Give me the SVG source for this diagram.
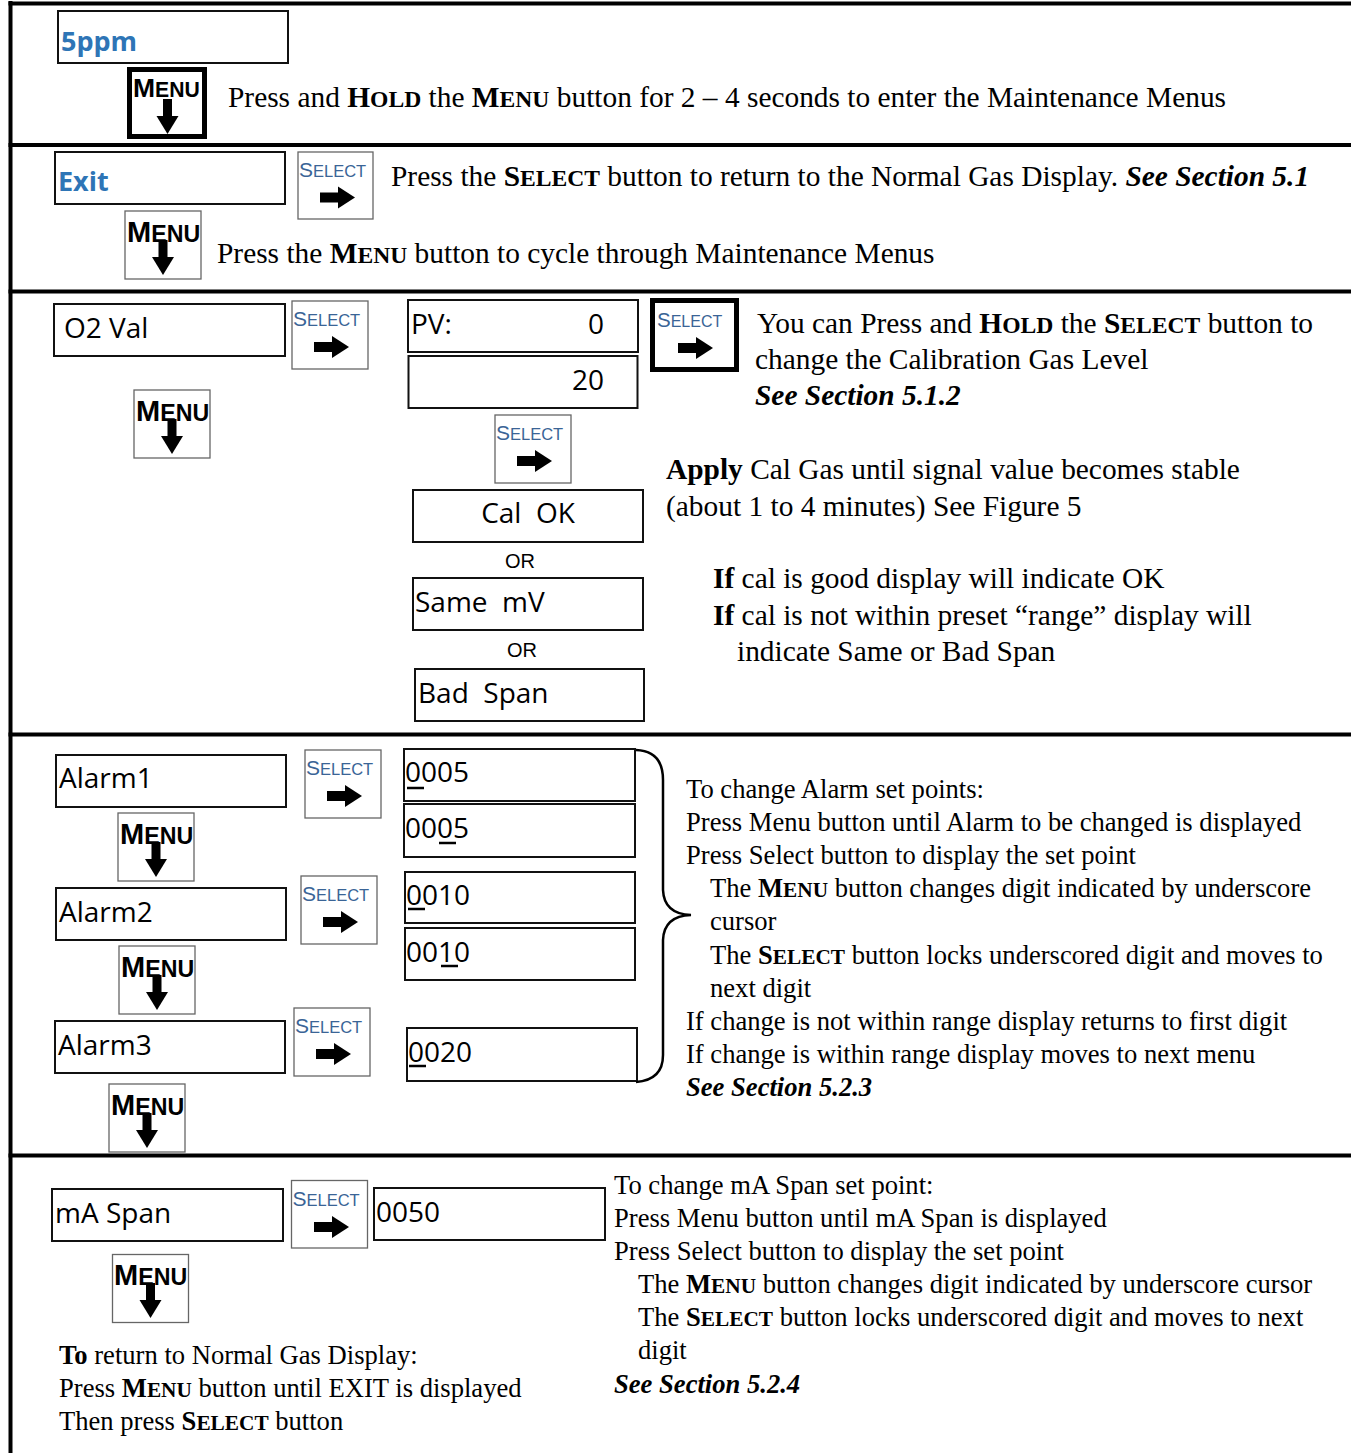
<svg xmlns="http://www.w3.org/2000/svg" width="1351" height="1453" viewBox="0 0 1351 1453">
<style>
.frame{stroke:#000;stroke-width:4;fill:none}
.box{fill:#fff;stroke:#111;stroke-width:2}
.btn{fill:#fff;stroke:#666;stroke-width:1.3}
.thick{fill:#fff;stroke:#000;stroke-width:5}
.disp{font-family:"Open Sans","Noto Sans",sans-serif;font-size:28px;fill:#000;white-space:pre}
.blue{font-family:"Open Sans","Noto Sans",sans-serif;font-size:27px;font-weight:bold;fill:#2E75B6}
.menu{font-family:"Liberation Sans",Arial,sans-serif;font-weight:bold;fill:#000}
.sel{font-family:"Liberation Sans",Arial,sans-serif;fill:#3A6496}
.t{font-family:"Liberation Serif","Times New Roman",serif;font-size:29.4px;fill:#000}
.s{font-family:"Liberation Serif","Times New Roman",serif;font-size:26.6px;fill:#000}
.or{font-family:"Liberation Sans",Arial,sans-serif;font-size:20px;fill:#000}
.b{font-weight:bold}
.bi{font-weight:bold;font-style:italic}
.ul{stroke:#000;stroke-width:2.5}
.brace{fill:none;stroke:#000;stroke-width:2.5}
</style>
<defs>
<g id="menuArrow"><rect x="-4.5" y="0" width="9" height="18"/><polygon points="-11,17 11,17 0,35"/></g>
<g id="selArrow"><rect x="0" y="-5" width="20" height="10"/><polygon points="18,-11 18,11 35,0"/></g>
</defs>

<g id="frame">
<line class="frame" x1="10.5" y1="1" x2="10.5" y2="1453"/>
<line class="frame" x1="8.5" y1="3.5" x2="1351" y2="3.5"/>
<line class="frame" x1="8.5" y1="145" x2="1351" y2="145"/>
<line class="frame" x1="8.5" y1="291.5" x2="1351" y2="291.5"/>
<line class="frame" x1="8.5" y1="734.5" x2="1351" y2="734.5"/>
<line class="frame" x1="8.5" y1="1155.5" x2="1351" y2="1155.5"/>
</g>

<!-- Section 1 -->
<g id="disp-5ppm"><rect class="box" x="58" y="11" width="230" height="52"/><text class="blue" x="61" y="51">5ppm</text></g>
<g id="btn-menu-hold">
<rect class="thick" x="129.5" y="69.5" width="75" height="67" stroke-width="6"/>
<text class="menu" x="133" y="97" font-size="26.5">M<tspan font-size="21.2">ENU</tspan></text>
<use href="#menuArrow" x="167.5" y="99"/>
</g>
<text class="t" x="228" y="107">Press and <tspan class="b">H<tspan font-size="23.6">OLD</tspan></tspan> the <tspan class="b">M<tspan font-size="23.6">ENU</tspan></tspan> button for 2 – 4 seconds to enter the Maintenance Menus</text>

<!-- Section 2 -->
<g id="disp-exit"><rect class="box" x="55" y="152" width="230" height="52"/><text class="blue" x="58" y="191">Exit</text></g>
<g id="btn-select-exit">
<rect class="btn" x="298" y="152" width="75" height="67"/>
<text class="sel" x="299" y="177" font-size="21">S<tspan font-size="16.5">ELECT</tspan></text>
<use href="#selArrow" x="320" y="197.5"/>
</g>
<text class="t" x="391" y="186">Press the <tspan class="b">S<tspan font-size="23.6">ELECT</tspan></tspan> button to return to the Normal Gas Display. <tspan class="bi">See Section 5.1</tspan></text>
<g id="btn-menu-cycle">
<rect class="btn" x="125" y="211" width="76" height="68"/>
<text class="menu" x="127" y="242" font-size="29">M<tspan font-size="23.2">ENU</tspan></text>
<use href="#menuArrow" x="163" y="240"/>
</g>
<text class="t" x="217" y="263">Press the <tspan class="b">M<tspan font-size="23.6">ENU</tspan></tspan> button to cycle through Maintenance Menus</text>

<!-- Section 3 -->
<g id="disp-o2val"><rect class="box" x="54" y="304" width="231" height="52"/><text class="disp" x="64" y="338">O2 Val</text></g>
<g id="btn-select-o2">
<rect class="btn" x="292" y="301" width="76" height="68"/>
<text class="sel" x="293" y="326" font-size="21">S<tspan font-size="16.5">ELECT</tspan></text>
<use href="#selArrow" x="314" y="347"/>
</g>
<g id="btn-menu-o2">
<rect class="btn" x="134" y="390" width="76" height="68"/>
<text class="menu" x="136" y="421" font-size="29">M<tspan font-size="23.2">ENU</tspan></text>
<use href="#menuArrow" x="172" y="419"/>
</g>
<g id="disp-pv"><rect class="box" x="408" y="300" width="230" height="52"/><text class="disp" x="411" y="334">PV:</text><text class="disp" x="604" y="334" text-anchor="end">0</text></g>
<g id="disp-20"><rect class="box" x="408.5" y="356" width="229" height="52" stroke-width="3"/><text class="disp" x="604" y="390" text-anchor="end">20</text></g>
<g id="btn-select-cal">
<rect class="btn" x="495" y="415" width="76" height="68"/>
<text class="sel" x="496" y="440" font-size="21">S<tspan font-size="16.5">ELECT</tspan></text>
<use href="#selArrow" x="517" y="461"/>
</g>
<g id="btn-select-hold">
<rect class="thick" x="652.5" y="300.5" width="84" height="69"/>
<text class="sel" x="657" y="327" font-size="20.5">S<tspan font-size="16">ELECT</tspan></text>
<use href="#selArrow" x="678" y="348"/>
</g>
<text class="t" x="757" y="333">You can Press and <tspan class="b">H<tspan font-size="23.6">OLD</tspan></tspan> the <tspan class="b">S<tspan font-size="23.6">ELECT</tspan></tspan> button to</text>
<text class="t" x="755" y="369">change the Calibration Gas Level</text>
<text class="t bi" x="755" y="405">See Section 5.1.2</text>
<text class="t" x="666" y="479"><tspan class="b">Apply</tspan> Cal Gas until signal value becomes stable</text>
<text class="t" x="666" y="516">(about 1 to 4 minutes) See Figure 5</text>
<g id="disp-calok"><rect class="box" x="413" y="490" width="230" height="52"/><text class="disp" x="528" y="523" text-anchor="middle">Cal  OK</text></g>
<text class="or" x="520" y="568" text-anchor="middle">OR</text>
<g id="disp-samemv"><rect class="box" x="413" y="578" width="230" height="52"/><text class="disp" x="415" y="612">Same  mV</text></g>
<text class="or" x="522" y="657" text-anchor="middle">OR</text>
<g id="disp-badspan"><rect class="box" x="415" y="669" width="229" height="52"/><text class="disp" x="418" y="703">Bad  Span</text></g>
<text class="t" x="713" y="588"><tspan class="b">If</tspan> cal is good display will indicate OK</text>
<text class="t" x="713" y="625"><tspan class="b">If</tspan> cal is not within preset “range” display will</text>
<text class="t" x="737" y="661">indicate Same or Bad Span</text>

<!-- Section 4 -->
<g id="disp-alarm1"><rect class="box" x="56" y="755" width="230" height="52"/><text class="disp" x="59" y="788">Alarm1</text></g>
<g id="btn-select-a1">
<rect class="btn" x="305" y="750" width="76" height="68"/>
<text class="sel" x="306" y="775" font-size="21">S<tspan font-size="16.5">ELECT</tspan></text>
<use href="#selArrow" x="327" y="796"/>
</g>
<g id="btn-menu-a1">
<rect class="btn" x="118" y="813" width="76" height="68"/>
<text class="menu" x="120" y="844" font-size="29">M<tspan font-size="23.2">ENU</tspan></text>
<use href="#menuArrow" x="156" y="842"/>
</g>
<g id="disp-alarm2"><rect class="box" x="56" y="888" width="230" height="52"/><text class="disp" x="59" y="922">Alarm2</text></g>
<g id="btn-select-a2">
<rect class="btn" x="301" y="876" width="76" height="68"/>
<text class="sel" x="302" y="901" font-size="21">S<tspan font-size="16.5">ELECT</tspan></text>
<use href="#selArrow" x="323" y="922"/>
</g>
<g id="btn-menu-a2">
<rect class="btn" x="119" y="946" width="76" height="68"/>
<text class="menu" x="121" y="977" font-size="29">M<tspan font-size="23.2">ENU</tspan></text>
<use href="#menuArrow" x="157" y="975"/>
</g>
<g id="disp-alarm3"><rect class="box" x="55" y="1021" width="230" height="52"/><text class="disp" x="58" y="1055">Alarm3</text></g>
<g id="btn-select-a3">
<rect class="btn" x="294" y="1008" width="76" height="68"/>
<text class="sel" x="295" y="1033" font-size="21">S<tspan font-size="16.5">ELECT</tspan></text>
<use href="#selArrow" x="316" y="1054"/>
</g>
<g id="btn-menu-a3">
<rect class="btn" x="109" y="1084" width="76" height="68"/>
<text class="menu" x="111" y="1115" font-size="29">M<tspan font-size="23.2">ENU</tspan></text>
<use href="#menuArrow" x="147" y="1113"/>
</g>
<g id="val-0005a"><rect class="box" x="404" y="749" width="231" height="52"/><text class="disp" x="405" y="782">0005</text><line class="ul" x1="407" y1="788" x2="424" y2="788"/></g>
<g id="val-0005b"><rect class="box" x="404" y="804" width="231" height="53"/><text class="disp" x="405" y="838">0005</text><line class="ul" x1="439" y1="843" x2="456" y2="843"/></g>
<g id="val-0010a"><rect class="box" x="405" y="872" width="230" height="51"/><text class="disp" x="406" y="905">0010</text><line class="ul" x1="408" y1="909" x2="425" y2="909"/></g>
<g id="val-0010b"><rect class="box" x="405" y="928" width="230" height="52"/><text class="disp" x="406" y="962">0010</text><line class="ul" x1="441" y1="966" x2="458" y2="966"/></g>
<g id="val-0020"><rect class="box" x="407" y="1028" width="230" height="53"/><text class="disp" x="408" y="1062">0020</text><line class="ul" x1="409" y1="1066" x2="426" y2="1066"/></g>
<g id="connectors">
<path class="brace" d="M636,750 Q663,751 663,780 L663,890 Q664,914 691,915 Q664,916 663,940 L663,1055 Q663,1080 636,1082"/>
</g>
<text class="s" x="686" y="798">To change Alarm set points:</text>
<text class="s" x="686" y="831">Press Menu button until Alarm to be changed is displayed</text>
<text class="s" x="686" y="864">Press Select button to display the set point</text>
<text class="s" x="710" y="897">The <tspan class="b">M<tspan font-size="21.3">ENU</tspan></tspan> button changes digit indicated by underscore</text>
<text class="s" x="710" y="930">cursor</text>
<text class="s" x="710" y="964">The <tspan class="b">S<tspan font-size="21.3">ELECT</tspan></tspan> button locks underscored digit and moves to</text>
<text class="s" x="710" y="997">next digit</text>
<text class="s" x="686" y="1030">If change is not within range display returns to first digit</text>
<text class="s" x="686" y="1063">If change is within range display moves to next menu</text>
<text class="s bi" x="686" y="1096">See Section 5.2.3</text>

<!-- Section 5 -->
<g id="disp-maspan"><rect class="box" x="52" y="1189" width="231" height="52"/><text class="disp" x="55" y="1223">mA Span</text></g>
<g id="btn-select-ma">
<rect class="btn" x="291.5" y="1180.5" width="76" height="67.5"/>
<text class="sel" x="292.5" y="1206" font-size="21">S<tspan font-size="16.5">ELECT</tspan></text>
<use href="#selArrow" x="314" y="1227"/>
</g>
<g id="val-0050"><rect class="box" x="374" y="1188" width="231" height="52"/><text class="disp" x="376" y="1222">0050</text></g>
<g id="btn-menu-ma">
<rect class="btn" x="112.5" y="1254.5" width="76" height="68"/>
<text class="menu" x="114" y="1285" font-size="29">M<tspan font-size="23.2">ENU</tspan></text>
<use href="#menuArrow" x="150.5" y="1283"/>
</g>
<text class="s" x="614" y="1194">To change mA Span set point:</text>
<text class="s" x="614" y="1227">Press Menu button until mA Span is displayed</text>
<text class="s" x="614" y="1260">Press Select button to display the set point</text>
<text class="s" x="638" y="1293">The <tspan class="b">M<tspan font-size="21.3">ENU</tspan></tspan> button changes digit indicated by underscore cursor</text>
<text class="s" x="638" y="1326">The <tspan class="b">S<tspan font-size="21.3">ELECT</tspan></tspan> button locks underscored digit and moves to next</text>
<text class="s" x="638" y="1359">digit</text>
<text class="s bi" x="614" y="1393">See Section 5.2.4</text>
<text class="s" x="59" y="1364"><tspan class="b">To</tspan> return to Normal Gas Display:</text>
<text class="s" x="59" y="1397">Press <tspan class="b">M<tspan font-size="21.3">ENU</tspan></tspan> button until EXIT is displayed</text>
<text class="s" x="59" y="1430">Then press <tspan class="b">S<tspan font-size="21.3">ELECT</tspan></tspan> button</text>
</svg>
